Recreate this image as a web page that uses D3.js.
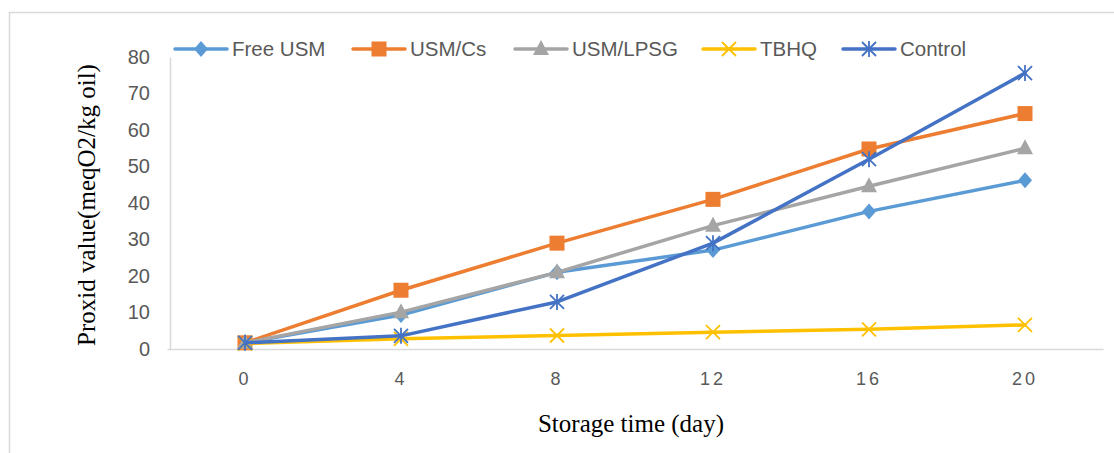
<!DOCTYPE html>
<html>
<head>
<meta charset="utf-8">
<script src="https://cdn.jsdelivr.net/npm/d3@7"></script>
<style>
	body { margin: 0; background: #fff; }
	svg { display: block; }
</style>
</head>
<body>
<div id="chart"></div>
<script>
var days = ['0', '4', '8', '12', '16', '20'];
var yTicks = [0, 10, 20, 30, 40, 50, 60, 70, 80];

var freeUsm = [1.7, 9.3, 21, 27.1, 37.7, 46.2];
var usmCs = [1.7, 16.1, 29, 41, 54.8, 64.5];
var usmLpsg = [1.7, 10.1, 21, 33.8, 44.6, 55];
var tbhq = [1.5, 2.8, 3.7, 4.6, 5.4, 6.6];
var control = [1.7, 3.6, 12.9, 29, 52, 75.6];

var series = [
	{ name: 'Free USM', values: freeUsm, color: '#5B9BD5', marker: 'diamond' },
	{ name: 'USM/Cs', values: usmCs, color: '#ED7D31', marker: 'square' },
	{ name: 'USM/LPSG', values: usmLpsg, color: '#A5A5A5', marker: 'triangle' },
	{ name: 'TBHQ', values: tbhq, color: '#FFC000', marker: 'x' },
	{ name: 'Control', values: control, color: '#4472C4', marker: 'star' }
];

var width = 1114, height = 453;
var plot = { left: 167, right: 1103, top: 57, bottom: 349 };

var svg = d3.select('#chart').append('svg')
	.attr('width', width).attr('height', height);

// chart frame (right and bottom edges fall outside the picture)
svg.append('rect')
	.attr('x', 9.5).attr('y', 12.5)
	.attr('width', 1120).attr('height', 460)
	.attr('fill', 'none').attr('stroke', '#d9d9d9').attr('stroke-width', 1.5);

var x = d3.scaleBand().domain(days).range([plot.left, plot.right]);
var y = d3.scaleLinear().domain([0, 80]).range([plot.bottom, plot.top]);

function cx(i) { return x(days[i]) + x.bandwidth() / 2; }

// y axis
var yAxis = svg.append('g')
	.attr('transform', 'translate(170,0)')
	.call(d3.axisLeft(y).tickValues(yTicks).tickSize(0).tickPadding(20));
yAxis.select('.domain').attr('stroke', '#d9d9d9').attr('stroke-width', 1.5);
yAxis.selectAll('text')
	.attr('font-family', 'Liberation Sans, Arial, sans-serif')
	.attr('font-size', 20).attr('fill', '#595959');

// x axis
var xAxis = svg.append('g')
	.attr('transform', 'translate(0,' + plot.bottom + ')')
	.call(d3.axisBottom(x).tickSize(0).tickPadding(23));
xAxis.select('.domain').attr('stroke', '#d9d9d9').attr('stroke-width', 1.5);
xAxis.selectAll('text')
	.attr('font-family', 'Liberation Sans, Arial, sans-serif')
	.attr('font-size', 18).attr('fill', '#595959')
	.attr('letter-spacing', 3);

// axis titles
svg.append('text')
	.attr('transform', 'translate(95,205) rotate(-90)')
	.attr('text-anchor', 'middle')
	.attr('font-family', 'Liberation Serif, Times New Roman, serif')
	.attr('font-size', 25).attr('fill', '#000')
	.text('Proxid value(meqO2/kg oil)');

svg.append('text')
	.attr('x', 631).attr('y', 432)
	.attr('text-anchor', 'middle')
	.attr('font-family', 'Liberation Serif, Times New Roman, serif')
	.attr('font-size', 25).attr('fill', '#000')
	.text('Storage time (day)');

function drawMarker(g, type, color, px, py) {
	switch (type) {
		case 'diamond':
			g.append('path')
				.attr('d', 'M' + px + ',' + (py - 8) + 'L' + (px + 7) + ',' + py + 'L' + px + ',' + (py + 8) + 'L' + (px - 7) + ',' + py + 'Z')
				.attr('fill', color);
			break;
		case 'square':
			g.append('rect')
				.attr('x', px - 7.5).attr('y', py - 7.5)
				.attr('width', 15).attr('height', 15)
				.attr('fill', color);
			break;
		case 'triangle':
			g.append('path')
				.attr('d', 'M' + px + ',' + (py - 9) + 'L' + (px + 8) + ',' + (py + 6) + 'L' + (px - 8) + ',' + (py + 6) + 'Z')
				.attr('fill', color);
			break;
		case 'x':
			g.append('path')
				.attr('d', 'M' + (px - 7) + ',' + (py - 7) + 'L' + (px + 7) + ',' + (py + 7) + 'M' + (px + 7) + ',' + (py - 7) + 'L' + (px - 7) + ',' + (py + 7))
				.attr('stroke', color).attr('stroke-width', 1.8).attr('fill', 'none');
			break;
		case 'star':
			g.append('path')
				.attr('d', 'M' + (px - 7) + ',' + (py - 7) + 'L' + (px + 7) + ',' + (py + 7) + 'M' + (px + 7) + ',' + (py - 7) + 'L' + (px - 7) + ',' + (py + 7) + 'M' + px + ',' + (py - 8) + 'L' + px + ',' + (py + 8))
				.attr('stroke', color).attr('stroke-width', 1.8).attr('fill', 'none');
			break;
		default:
			break;
	}
}

var line = d3.line()
	.x(function (d, i) { return cx(i); })
	.y(function (d) { return y(d); });

var lines = svg.append('g').attr('id', 'series');
for (var s = 0; s < series.length; s++) {
	var sr = series[s];
	var g = lines.append('g');
	g.append('path')
		.attr('d', line(sr.values))
		.attr('fill', 'none')
		.attr('stroke', sr.color)
		.attr('stroke-width', 3.5)
		.attr('stroke-linejoin', 'round')
		.attr('stroke-linecap', 'round');
	for (var i = 0; i < sr.values.length; i++) {
		drawMarker(g, sr.marker, sr.color, cx(i), y(sr.values[i]));
	}
}

// legend
var legendX = [175, 353, 515, 703, 843];
var legend = svg.append('g').attr('id', 'legend');
for (var k = 0; k < series.length; k++) {
	var lg = legend.append('g');
	var lx = legendX[k], ly = 49;
	lg.append('line')
		.attr('x1', lx).attr('x2', lx + 52)
		.attr('y1', ly).attr('y2', ly)
		.attr('stroke', series[k].color).attr('stroke-width', 3.5)
		.attr('stroke-linecap', 'round');
	drawMarker(lg, series[k].marker, series[k].color, lx + 26, ly);
	lg.append('text')
		.attr('x', lx + 57).attr('y', ly + 7)
		.attr('font-family', 'Liberation Sans, Arial, sans-serif')
		.attr('font-size', 20.5).attr('fill', '#595959')
		.text(series[k].name);
}
</script>
</body>
</html>
